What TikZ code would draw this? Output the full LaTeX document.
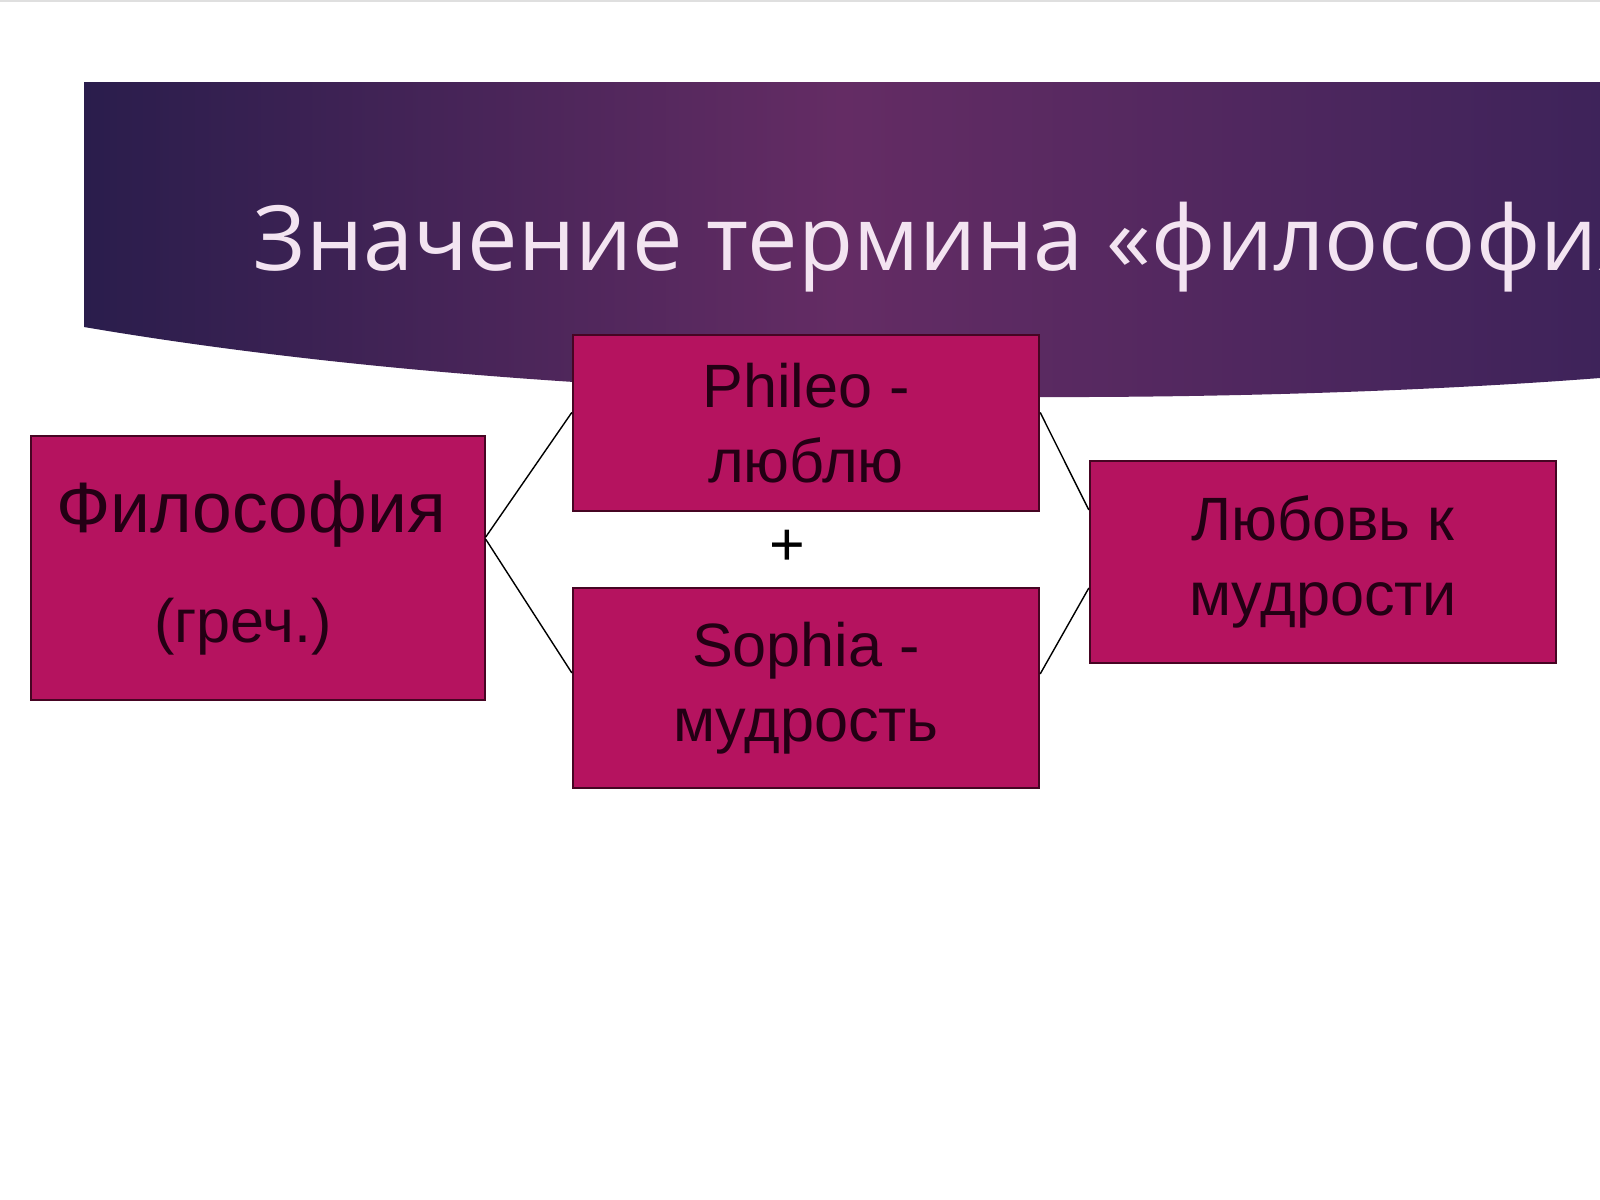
\documentclass[tikz,border=0pt]{standalone}
\usepackage{fontspec}
\setmainfont{Liberation Sans}
\newfontfamily\titlefont{Open Sans}
\usetikzlibrary{positioning}
\definecolor{boxfill}{RGB}{181,19,95}
\definecolor{boxline}{RGB}{70,5,35}
\definecolor{boxtext}{RGB}{35,0,20}
\definecolor{bannerleft}{RGB}{42,29,76}
\definecolor{bannermid}{RGB}{100,44,100}
\definecolor{bannerright}{RGB}{62,35,90}
\definecolor{titletext}{RGB}{243,228,241}

\begin{document}
\begin{tikzpicture}
		[x=0.01cm, y=-0.01cm,
		termbox/.style={rectangle, draw=boxline, fill=boxfill, line width=0.6pt, text=boxtext, align=center, font=\fontsize{17.4}{21.2}\selectfont},
		link/.style={draw=black, line width=0.4pt},
		]
		\useasboundingbox (0,0) rectangle (1600,1200);
		\clip (0,0) rectangle (1600,1200);
		\fill[white] (0,0) rectangle (1600,1200);
		\draw[gray!25, line width=0.6pt] (0,1) -- (1600,1);
		
		%Banner
		\shade[left color=bannerleft, right color=bannerright, middle color=bannermid]
			(84,82) -- (1600,82) -- (1600,378) .. controls (1250,405) and (600,415) .. (84,327) -- cycle;
		\node[anchor=base west, text=titletext, inner sep=0pt, font=\titlefont\fontsize{25.6}{32}\selectfont] (title) at (253,270) {Значение термина «философия»};
		
		%Nodes
		\node[termbox, minimum width=4.53cm, minimum height=2.63cm](philosophy) at (258,568) {{\fontsize{20.3}{24}\selectfont Философия}\rule{0.14cm}{0pt}\\[3.5mm](греч.)\rule{0.3cm}{0pt}\rule[-0.9mm]{0pt}{0pt}};
		\node[termbox, minimum width=4.66cm, minimum height=1.76cm](phileo) at (806,423) {Phileo -\\люблю};
		\node[termbox, minimum width=4.66cm, minimum height=2cm](sophia) at (806,688) {Sophia -\\мудрость};
		\node[termbox, minimum width=4.66cm, minimum height=2.02cm](love) at (1323,562) {Любовь к\\мудрости};
		\node[font=\fontsize{17.4}{20}\selectfont](plus) at (787,548) {+};
		
		%Lines
		\draw[link]([yshift=8.8pt]philosophy.east) -- ([yshift=3pt]phileo.west);
		\draw[link]([yshift=8.2pt]philosophy.east) -- ([yshift=4.3pt]sophia.west);
		\draw[link]([yshift=3pt]phileo.east) -- ([yshift=14.8pt]love.west);
		\draw[link]([yshift=4pt]sophia.east) -- ([yshift=-7.4pt]love.west);
	\end{tikzpicture}
\end{document}
